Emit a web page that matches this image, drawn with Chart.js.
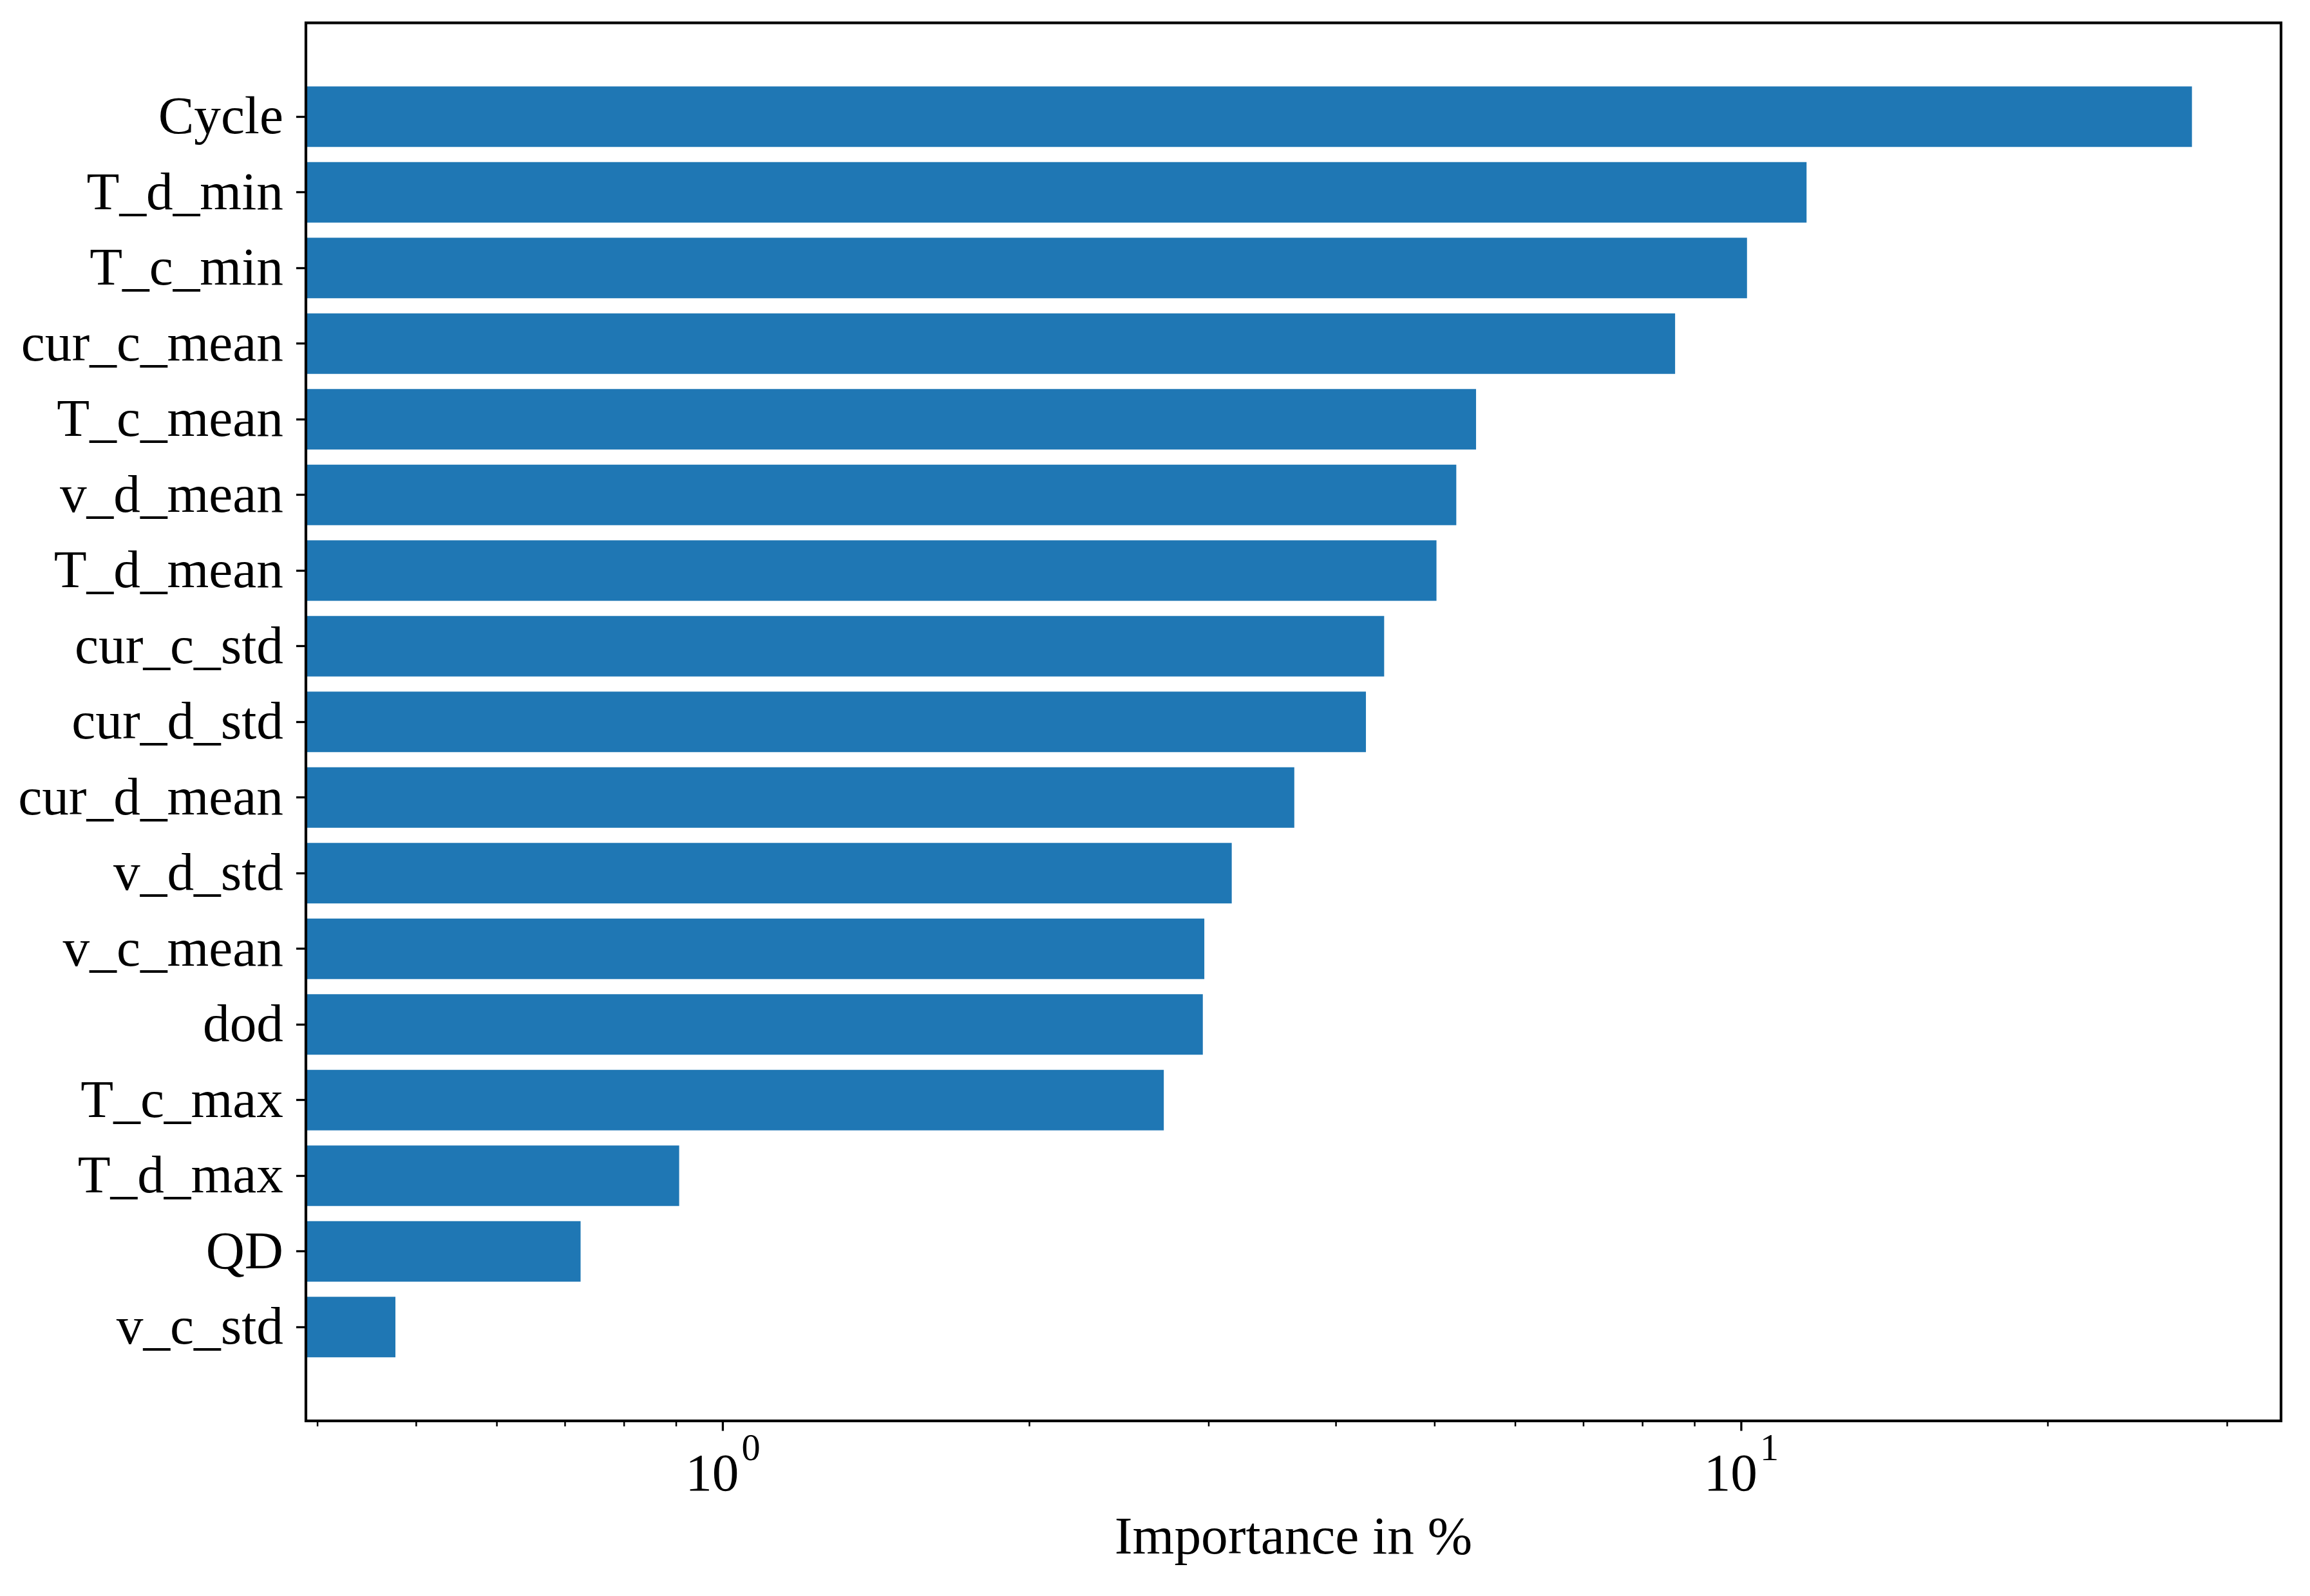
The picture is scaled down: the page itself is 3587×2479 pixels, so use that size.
<!DOCTYPE html>
<html>
<head>
<meta charset="utf-8">
<script src="https://cdn.jsdelivr.net/npm/chart.js@4.4.0/dist/chart.umd.min.js"></script>
<style>
  html, body { margin: 0; padding: 0; background: #ffffff; }
  canvas { display: block; }
</style>
</head>
<body>
<canvas id="c" width="3587" height="2479" style="width:3587px;height:2479px"></canvas>
<script>
// ---- data ----
const categories = ['Cycle', 'T_d_min', 'T_c_min', 'cur_c_mean', 'T_c_mean', 'v_d_mean', 'T_d_mean',
  'cur_c_std', 'cur_d_std', 'cur_d_mean', 'v_d_std', 'v_c_mean', 'dod', 'T_c_max', 'T_d_max', 'QD', 'v_c_std'];
const importance = [27.7, 11.59, 10.13, 8.61, 5.49, 5.25, 5.02,
  4.46, 4.28, 3.64, 3.16, 2.97, 2.96, 2.71, 0.906, 0.725, 0.477];
const xTickValues = [0.4, 0.5, 0.6, 0.7, 0.8, 0.9, 1, 2, 3, 4, 5, 6, 7, 8, 9, 10, 20, 30];
const xMajorTicks = [1, 10];
const xMajorBase = ['10', '10'];
const xMajorExp = ['0', '1'];
const xTitle = 'Importance in %';
const xMin = 0.3896, xMax = 33.88;

const FONT = "'Liberation Serif', 'Times New Roman', Times, serif";
const FS = 83.33;
const barColor = '#1f77b4';

const framePlugin = {
  id: 'frame',
  afterDatasetsDraw(chart) {
    const ctx = chart.ctx;
    const a = chart.chartArea;
    const xs = chart.scales.x;
    ctx.save();
    // x ticks
    ctx.strokeStyle = '#000';
    xs.ticks.forEach(t => {
      const v = t.value;
      const px = xs.getPixelForValue(v);
      const major = xMajorTicks.includes(v);
      ctx.lineWidth = major ? 3.3 : 2.5;
      ctx.beginPath();
      ctx.moveTo(px, a.bottom);
      ctx.lineTo(px, a.bottom + (major ? 15.5 : 8.5));
      ctx.stroke();
    });
    // spines
    ctx.lineWidth = 4.2;
    ctx.lineJoin = 'miter';
    ctx.strokeRect(a.left, a.top, a.right - a.left, a.bottom - a.top);
    // major tick labels with superscript exponent
    ctx.fillStyle = '#000';
    ctx.textBaseline = 'alphabetic';
    xMajorTicks.forEach((v, i) => {
      const px = xs.getPixelForValue(v);
      ctx.font = FS + 'px ' + FONT;
      const wb = ctx.measureText(xMajorBase[i]).width;
      const supSize = FS * 0.7;
      ctx.font = supSize + 'px ' + FONT;
      const we = ctx.measureText(xMajorExp[i]).width;
      const gap = 4;
      const total = wb + gap + we;
      const x0 = px - total / 2;
      ctx.textAlign = 'left';
      ctx.font = FS + 'px ' + FONT;
      ctx.fillText(xMajorBase[i], x0, a.bottom + 108);
      ctx.font = supSize + 'px ' + FONT;
      ctx.fillText(xMajorExp[i], x0 + wb + gap, a.bottom + 61);
    });
    ctx.restore();
  }
};

new Chart(document.getElementById('c'), {
  type: 'bar',
  data: {
    datasets: [{
      data: categories.map((c, i) => ({ x: importance[i], y: i })),
      backgroundColor: barColor,
      borderWidth: 0,
      barPercentage: 0.8,
      categoryPercentage: 1.0
    }]
  },
  options: {
    indexAxis: 'y',
    responsive: false,
    devicePixelRatio: 1,
    animation: false,
    layout: { padding: { top: 35.5, right: 45, bottom: 0, left: 0 } },
    plugins: { legend: { display: false }, tooltip: { enabled: false }, title: { display: false } },
    scales: {
      y: {
        type: 'linear',
        reverse: true,
        offset: false,
        min: -1.24,
        max: 17.24,
        afterBuildTicks: (s) => { s.ticks = categories.map((c, i) => ({ value: i })); },
        afterFit: (s) => { s.width = 475; s.paddingTop = 0; s.paddingBottom = 0; },
        grid: { offset: false, drawOnChartArea: false, drawTicks: true, tickLength: 15, tickWidth: 3.3, tickColor: '#000' },
        border: { display: false },
        ticks: {
          autoSkip: false,
          padding: 20,
          labelOffset: 4,
          color: '#000',
          font: { family: FONT, size: FS },
          callback: (v) => categories[v] !== undefined ? categories[v] : ''
        }
      },
      x: {
        type: 'logarithmic',
        offset: false,
        min: xMin,
        max: xMax,
        afterBuildTicks: (s) => { s.ticks = xTickValues.map(v => ({ value: v })); },
        afterFit: (s) => { s.height = 272; s.paddingLeft = 0; s.paddingRight = 0; },
        grid: { display: false, drawOnChartArea: false, drawTicks: false },
        border: { display: false },
        ticks: { display: false },
        title: {
          display: true,
          text: xTitle,
          color: '#000',
          font: { family: FONT, size: FS, lineHeight: 1.2 },
          padding: { top: 0, bottom: 38 }
        }
      }
    }
  },
  plugins: [framePlugin]
});
</script>
</body>
</html>
